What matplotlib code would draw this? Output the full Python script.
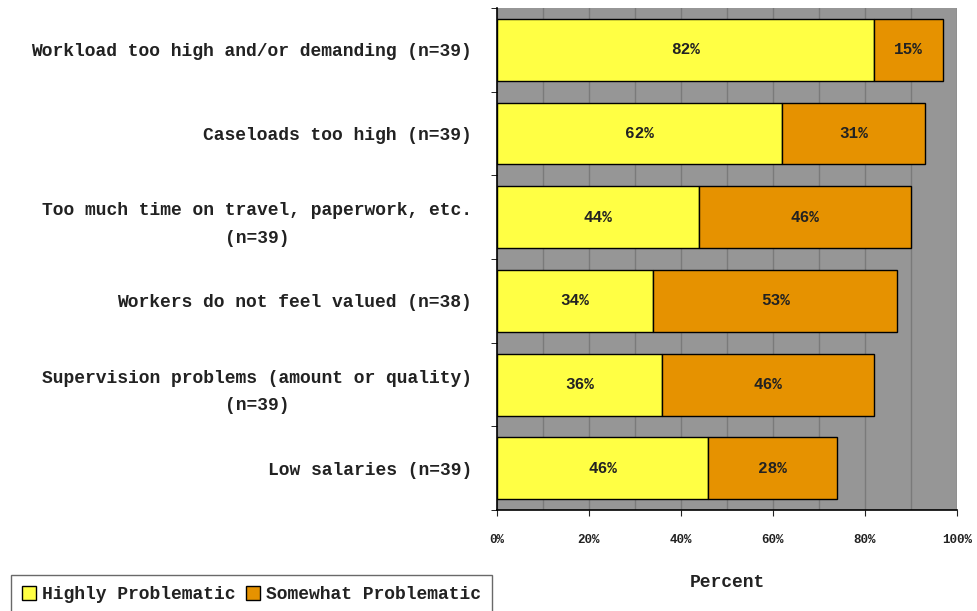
import numpy as np
import matplotlib.pyplot as plt
import matplotlib as mpl
from matplotlib.ticker import MultipleLocator, FuncFormatter

mpl.rcParams['font.family'] = ['Liberation Mono', 'DejaVu Sans Mono']

categories = [
    "Workload too high and/or demanding (n=39)",
    "Caseloads too high (n=39)",
    "Too much time on travel, paperwork, etc.\n(n=39)",
    "Workers do not feel valued (n=38)",
    "Supervision problems (amount or quality)\n(n=39)",
    "Low salaries (n=39)",
]
highly = [82, 62, 44, 34, 36, 46]
somewhat = [15, 31, 46, 53, 46, 28]

yellow = '#ffff44'
orange = '#e69200'
gray_bg = '#969696'
text_color = '#222222'

fig = plt.figure(figsize=(9.78, 6.11), dpi=100, facecolor='white')
ax = fig.add_axes([0.508, 0.165, 0.4705, 0.822])
ax.set_facecolor(gray_bg)

y = np.arange(len(categories))
h = np.array(highly) / 100
s = np.array(somewhat) / 100

b1 = ax.barh(y, h, height=0.74, color=yellow, edgecolor='black',
             linewidth=1, label='Highly Problematic', zorder=3)
b2 = ax.barh(y, s, left=h, height=0.74, color=orange, edgecolor='black',
             linewidth=1, label='Somewhat Problematic', zorder=3)

for i in range(len(categories)):
    ax.text(h[i] / 2, y[i], f'{highly[i]}%', ha='center', va='center',
            fontsize=11.5, fontweight='bold', color=text_color, zorder=4)
    ax.text(h[i] + s[i] / 2, y[i], f'{somewhat[i]}%', ha='center',
            va='center', fontsize=11.5, fontweight='bold', color=text_color,
            zorder=4)

ax.set_xlim(0, 1)
ax.set_ylim(len(categories) - 0.5, -0.5)

ax.xaxis.set_major_locator(MultipleLocator(0.2))
ax.xaxis.set_minor_locator(MultipleLocator(0.1))
ax.xaxis.set_major_formatter(FuncFormatter(lambda v, p: f'{int(round(v * 100))}%'))
ax.grid(which='both', axis='x', color='#7a7a7a', linewidth=1, zorder=1)
ax.tick_params(axis='x', which='major', labelsize=9, length=4,
               colors=text_color, pad=13)
ax.tick_params(axis='x', which='minor', length=0)
for lbl in ax.get_xticklabels():
    lbl.set_fontweight('bold')

ax.set_yticks(y)
ax.set_yticklabels(categories, fontsize=13, fontweight='bold',
                   color=text_color, multialignment='center',
                   linespacing=1.8)
ax.set_yticks(np.arange(len(categories) + 1) - 0.5, minor=True)
ax.tick_params(axis='y', which='major', length=0, pad=18)
ax.tick_params(axis='y', which='minor', length=4)

for side in ['top', 'right']:
    ax.spines[side].set_visible(False)
ax.spines['left'].set_color('black')
ax.spines['bottom'].set_color('black')
ax.spines['left'].set_linewidth(1.2)
ax.spines['bottom'].set_linewidth(1.2)

ax.set_xlabel('Percent', fontsize=13, fontweight='bold', color=text_color,
              labelpad=20)

leg = fig.legend(handles=[b1, b2], loc='lower left',
                 bbox_to_anchor=(0.002, -0.02), ncol=2,
                 prop={'size': 13, 'weight': 'bold'},
                 frameon=True, fancybox=False, handlelength=0.8,
                 handleheight=0.8, handletextpad=0.3, columnspacing=0.6,
                 borderpad=0.6)
leg.get_frame().set_edgecolor('#444444')
leg.get_frame().set_linewidth(1)
for t in leg.get_texts():
    t.set_color(text_color)

fig.savefig('out.png', dpi=100, facecolor='white')
